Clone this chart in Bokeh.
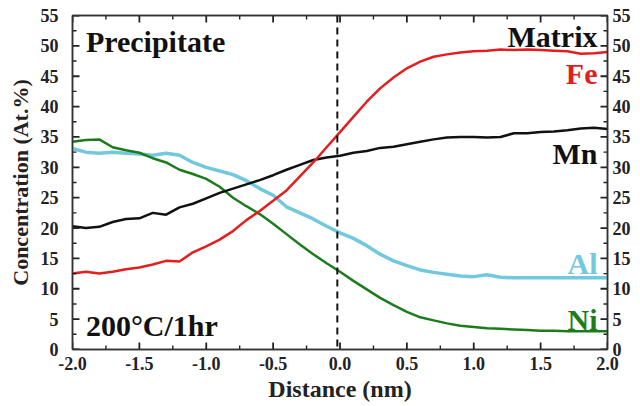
import math
from bokeh.plotting import figure
from bokeh.models import LinearAxis, Range1d, Span, Label, FixedTicker, ColumnDataSource
from bokeh.embed import file_html
from bokeh.resources import INLINE

distance = [round(-2.0 + 0.1 * i, 1) for i in range(41)]

fe = [12.5, 12.8, 12.5, 12.8, 13.2, 13.5, 14.0, 14.6, 14.5, 16.0,
      17.0, 18.1, 19.5, 21.3, 22.8, 24.5, 26.2, 28.5, 30.8, 33.3,
      35.8, 38.3, 40.8, 43.0, 44.8, 46.3, 47.4, 48.2, 48.6, 48.9,
      49.1, 49.2, 49.4, 49.3, 49.4, 49.3, 49.2, 49.1, 48.7, 48.8, 49.0]
mn = [20.3, 20.0, 20.2, 21.0, 21.5, 21.6, 22.5, 22.2, 23.4, 24.0,
      24.9, 25.8, 26.5, 27.2, 27.9, 28.7, 29.6, 30.4, 31.2, 31.6,
      31.9, 32.4, 32.7, 33.2, 33.4, 33.8, 34.2, 34.6, 34.9, 35.0,
      35.0, 34.9, 35.0, 35.6, 35.6, 35.8, 35.9, 36.1, 36.4, 36.5, 36.3]
al = [33.1, 32.5, 32.3, 32.5, 32.3, 32.2, 32.0, 32.3, 32.0, 30.8,
      30.0, 29.4, 28.8, 27.8, 26.5, 25.4, 23.5, 22.5, 21.5, 20.3,
      19.2, 18.3, 17.1, 15.7, 14.6, 13.8, 13.1, 12.7, 12.4, 12.1,
      12.0, 12.3, 11.9, 11.8, 11.8, 11.8, 11.8, 11.8, 11.8, 11.8, 11.8]
ni = [34.2, 34.5, 34.6, 33.3, 32.8, 32.4, 31.5, 30.8, 29.6, 28.9,
      28.1, 26.8, 25.0, 23.6, 22.3, 20.7, 19.0, 17.3, 15.7, 14.2,
      12.8, 11.3, 9.9, 8.5, 7.3, 6.2, 5.3, 4.8, 4.3, 3.9,
      3.7, 3.5, 3.4, 3.3, 3.2, 3.1, 3.1, 3.0, 3.0, 3.0, 3.0]

x_ticks = [-2.0, -1.5, -1.0, -0.5, 0.0, 0.5, 1.0, 1.5, 2.0]
x_minor = [-1.75, -1.25, -0.75, -0.25, 0.25, 0.75, 1.25, 1.75]
y_ticks = [0, 5, 10, 15, 20, 25, 30, 35, 40, 45, 50, 55]
y_minor = [2.5, 7.5, 12.5, 17.5, 22.5, 27.5, 32.5, 37.5, 42.5, 47.5, 52.5]
interface_x = -0.02

X0, X1 = -2.0, 2.0
Y0, Y1 = 0, 55

FONT = "Liberation Serif"
AXC = "#333333"

p = figure(width=640, height=406, output_backend="svg", toolbar_location=None,
           x_range=Range1d(X0, X1), y_range=Range1d(Y0, Y1),
           min_border_left=72, min_border_right=33, min_border_top=15, min_border_bottom=57)
p.grid.visible = False
p.outline_line_color = AXC
p.outline_line_width = 1.5
p.background_fill_color = "white"
p.border_fill_color = "white"

src = ColumnDataSource(dict(x=distance, fe=fe, mn=mn, al=al, ni=ni))
p.line("x", "al", source=src, line_color="#72c8dc", line_width=3.5)
p.line("x", "ni", source=src, line_color="#1c7c1c", line_width=2.5)
p.line("x", "mn", source=src, line_color="#111111", line_width=2.5)
p.line("x", "fe", source=src, line_color="#e41e1e", line_width=2.5)

p.add_layout(Span(location=interface_x, dimension="height", line_color="#111111",
                  line_width=2, line_dash="7 5"))

# inward tick marks on all four sides, drawn from the tick lists
TC = "#222222"
for ticks, ln, lw in ((x_ticks, 7, 1.8), (x_minor, 4, 1.4)):
    p.ray(x=ticks, y=[Y0] * len(ticks), length=ln, length_units="screen",
          angle=math.pi / 2, line_color=TC, line_width=lw)
    p.ray(x=ticks, y=[Y1] * len(ticks), length=ln, length_units="screen",
          angle=-math.pi / 2, line_color=TC, line_width=lw)
for ticks, ln, lw in ((y_ticks, 7, 1.8), (y_minor, 4, 1.4)):
    p.ray(x=[X0] * len(ticks), y=ticks, length=ln, length_units="screen",
          angle=0, line_color=TC, line_width=lw)
    p.ray(x=[X1] * len(ticks), y=ticks, length=ln, length_units="screen",
          angle=math.pi, line_color=TC, line_width=lw)

def style_axis(ax, labels=True):
    ax.axis_line_color = AXC
    ax.axis_line_width = 1.5
    ax.major_tick_line_color = None
    ax.minor_tick_line_color = None
    ax.major_tick_in = 0
    ax.major_tick_out = 0
    ax.minor_tick_in = 0
    ax.minor_tick_out = 0
    ax.major_label_text_font = FONT
    ax.major_label_text_font_style = "bold"
    if labels:
        ax.major_label_text_font_size = "18px"
        ax.major_label_text_color = "#222222"
    else:
        ax.major_label_text_font_size = "1px"
        ax.major_label_text_color = None
        ax.major_label_standoff = 0

xt = FixedTicker(ticks=x_ticks, minor_ticks=x_minor)
yt = FixedTicker(ticks=y_ticks, minor_ticks=y_minor)

xa = p.xaxis[0]
xa.ticker = xt
style_axis(xa)
xa.major_label_standoff = 7
xa.major_label_overrides = {v: f"{v:.1f}" for v in x_ticks}
xa.axis_label = "Distance (nm)"
xa.axis_label_text_font = FONT
xa.axis_label_text_font_style = "bold"
xa.axis_label_text_font_size = "24px"
xa.axis_label_text_color = "#222222"
xa.axis_label_standoff = 3

ya = p.yaxis[0]
ya.ticker = yt
style_axis(ya)
ya.major_label_standoff = 14
ya.axis_label = "Concentration (At.%)"
ya.axis_label_text_font = FONT
ya.axis_label_text_font_style = "bold"
ya.axis_label_text_font_size = "22px"
ya.axis_label_text_color = "#222222"
ya.axis_label_standoff = 5

ra = LinearAxis(ticker=yt)
style_axis(ra)
ra.major_label_standoff = 5
p.add_layout(ra, "right")

ta = LinearAxis(ticker=xt)
style_axis(ta, labels=False)
p.add_layout(ta, "above")

def lab(x, y, t, color="#111111", align="left", size="30px"):
    p.add_layout(Label(x=x, y=y, text=t, text_font=FONT, text_font_style="bold",
                       text_font_size=size, text_color=color, text_align=align,
                       text_baseline="alphabetic"))

lab(-1.9, 50.8, "Precipitate")
lab(1.925, 51.5, "Matrix", align="right")
lab(1.925, 45.4, "Fe", color="#e41e1e", align="right")
lab(1.925, 32.3, "Mn", align="right")
lab(1.925, 14.1, "Al", color="#72c8dc", align="right")
lab(1.925, 5.0, "Ni", color="#1c7c1c", align="right")
lab(-1.9, 4.0, "200°C/1hr")

open("out.html", "w").write(file_html(p, INLINE))
